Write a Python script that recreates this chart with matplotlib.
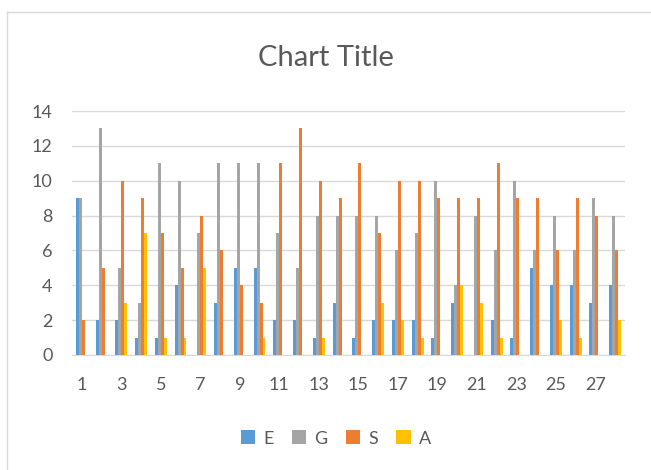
import matplotlib
matplotlib.use('Agg')
import matplotlib.pyplot as plt
from matplotlib.lines import Line2D
import numpy as np

categories = list(range(1, 29))
E = [9, 2, 2, 1, 1, 4, 0, 3, 5, 5, 2, 2, 1, 3, 1, 2, 2, 2, 1, 3, 0, 2, 1, 5, 4, 4, 3, 4]
G = [9, 13, 5, 3, 11, 10, 7, 11, 11, 11, 7, 5, 8, 8, 8, 8, 6, 7, 10, 4, 8, 6, 10, 6, 8, 6, 9, 8]
S = [2, 5, 10, 9, 7, 5, 8, 6, 4, 3, 11, 13, 10, 9, 11, 7, 10, 10, 9, 9, 9, 11, 9, 9, 6, 9, 8, 6]
A = [0, 0, 3, 7, 1, 1, 5, 0, 0, 1, 0, 0, 1, 0, 0, 3, 2, 1, 0, 4, 3, 1, 0, 0, 2, 1, 0, 2]

series = [("E", E, "#5B9BD5"), ("G", G, "#A5A5A5"),
          ("S", S, "#ED7D31"), ("A", A, "#FFC000")]

plt.rcParams['font.family'] = ['Lato', 'DejaVu Sans']
text_color = "#595959"

fig = plt.figure(figsize=(6.51, 4.70), dpi=100)
ax = fig.add_axes([0.1105, 0.2447, 0.8495, 0.5191])

x = np.arange(len(categories))
w = 0.15
for i, (name, vals, col) in enumerate(series):
    ax.bar(x + (i - 1.5) * w, vals, width=w, color=col, label=name, zorder=3)

ax.set_xlim(-0.5, len(categories) - 0.5)
ax.set_ylim(0, 14)
ax.set_yticks(range(0, 15, 2))
ax.set_xticks(x[::2])
ax.set_xticklabels([str(c) for c in categories[::2]])
ax.grid(axis='y', color="#D9D9D9", linewidth=1, zorder=0)
for side in ['top', 'right', 'left']:
    ax.spines[side].set_visible(False)
ax.spines['bottom'].set_color("#D9D9D9")
ax.tick_params(axis='both', length=0, labelsize=13, colors=text_color)
ax.tick_params(axis='x', pad=16)
ax.tick_params(axis='y', pad=14)

fig.text(0.5, 0.876, "Chart Title", ha='center', va='center',
         fontsize=21, color=text_color)

leg = fig.legend(loc='center', bbox_to_anchor=(0.516, 0.067), ncol=4, frameon=False,
                 fontsize=13, handlelength=0.8, handleheight=0.8,
                 columnspacing=1.0, handletextpad=0.45)
for t in leg.get_texts():
    t.set_color(text_color)

# chart area border (only top and left edges visible in the crop)
fig.add_artist(Line2D([7 / 651, 1], [1 - 12 / 470] * 2, transform=fig.transFigure,
                      color="#D9D9D9", linewidth=1))
fig.add_artist(Line2D([7 / 651] * 2, [0, 1 - 12 / 470], transform=fig.transFigure,
                      color="#D9D9D9", linewidth=1))

fig.savefig("out.png", dpi=100)
